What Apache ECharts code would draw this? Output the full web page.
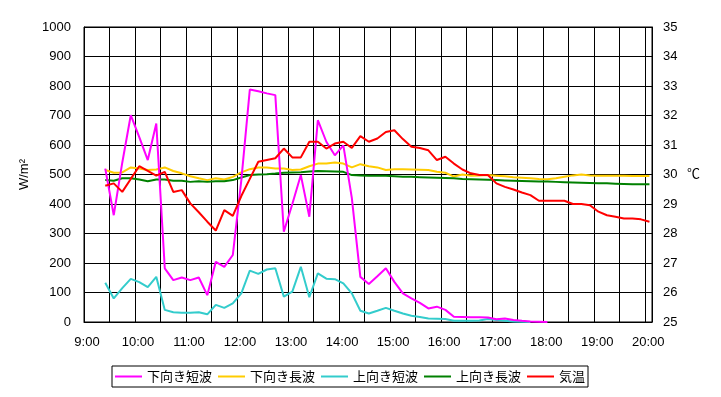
<!DOCTYPE html>
<html>
<head>
<meta charset="utf-8">
<script src="https://cdn.jsdelivr.net/npm/echarts@6/dist/echarts.min.js"></script>
<style>
html,body{margin:0;padding:0;background:#fff;}
#chart{width:721px;height:397px;}
</style>
</head>
<body>
<div id="chart"></div>
<script>
// Time stamps (10-minute data)
const times = ['9:25','9:35','9:45','9:55','10:05','10:15','10:25','10:35','10:45','10:55',
  '11:05','11:15','11:25','11:35','11:45','11:55','12:05','12:15','12:25','12:35',
  '12:45','12:55','13:05','13:15','13:25','13:35','13:45','13:55','14:05','14:15',
  '14:25','14:35','14:45','14:55','15:05','15:15','15:25','15:35','15:45','15:55',
  '16:05','16:15','16:25','16:35','16:45','16:55','17:05','17:15','17:25','17:35',
  '17:45','17:55','18:05','18:15','18:25','18:35','18:45','18:55','19:05','19:15',
  '19:25','19:35','19:45','19:55','20:05'];

// 下向き短波 (W/m2)
const downShort = [520,362,540,701,627,549,673,182,142,151,
  142,151,91,204,187,227,480,788,782,775,
  769,306,400,498,357,684,611,565,599,420,
  153,129,155,182,136,97,80,65,46,52,
  41,18,17,16,16,15,9,12,7,4,
  2,1,0];
// 下向き長波 (W/m2)
const downLong = [515,506,507,524,520,515,517,524,512,504,
  494,487,481,487,483,492,507,518,524,524,
  520,520,515,517,528,537,537,541,537,524,
  535,528,524,515,518,518,517,516,515,509,
  506,493,500,496,497,498,496,494,491,489,
  487,485,484,487,492,497,500,497,496,496,
  496,496,495,495,495];
// 上向き短波 (W/m2)
const upShort = [133,80,115,146,135,118,153,41,33,31,
  31,33,26,58,48,63,97,174,163,178,
  182,86,103,187,84,165,147,145,131,97,
  38,29,38,48,38,29,21,17,12,11,
  10,4,4,4,5,10,7,4,2,1,
  0];
// 上向き長波 (W/m2)
const upLong = [481,479,487,487,483,477,483,483,479,479,
  475,477,475,477,477,481,490,498,500,501,
  503,506,507,508,510,512,511,510,509,498,
  497,496,496,496,494,492,492,491,490,489,
  488,487,485,484,483,482,481,480,479,478,
  477,476,476,475,474,473,472,471,470,470,
  469,468,467,467,467];
// 気温 (℃)
const airTemp = [29.62,29.70,29.41,29.85,30.28,30.12,29.96,30.09,29.41,29.47,
  29.02,28.72,28.40,28.10,28.79,28.60,29.27,29.85,30.43,30.49,
  30.55,30.88,30.58,30.58,31.11,31.11,30.88,31.05,31.11,30.90,
  31.30,31.11,31.22,31.44,31.50,31.20,30.94,30.90,30.82,30.49,
  30.60,30.37,30.17,30.04,29.98,29.98,29.70,29.58,29.49,29.39,
  29.30,29.11,29.11,29.11,29.11,29.00,29.00,28.96,28.74,28.62,
  28.57,28.51,28.51,28.48,28.40];

const seriesNames = ['下向き短波','下向き長波','上向き短波','上向き長波','気温'];
const seriesColors = ['#FF00FF','#FFCC00','#33CCCC','#008000','#FF0000'];

function toHour(s){ const p = s.split(':'); return (+p[0]) + (+p[1])/60; }
function pairs(vals){ return vals.map((v,i)=>[toHour(times[i]), v]); }

const font = '"Liberation Sans", "Noto Sans CJK JP", sans-serif';
const chart = echarts.init(document.getElementById('chart'), null, {renderer:'canvas'});

const dataSets = [downShort, downLong, upShort, upLong, airTemp];
const series = dataSets.map((d,k)=>({
  name: seriesNames[k],
  type: 'line',
  yAxisIndex: k === 4 ? 1 : 0,
  data: pairs(d),
  symbol: 'none',
  smooth: false,
  lineStyle: {color: seriesColors[k], width: 2},
  itemStyle: {color: seriesColors[k]},
  animation: false,
  z: k === 4 ? 5 : (k === 0 ? 4 : 3)
}));

chart.setOption({
  animation: false,
  backgroundColor: '#fff',
  textStyle: {fontFamily: font},
  grid: {left: 84, right: 69, top: 27, bottom: 75, show: true, borderColor: '#000', borderWidth: 1, containLabel: false},
  legend: {
    data: seriesNames,
    bottom: 10,
    left: 112,
    orient: 'horizontal',
    borderColor: '#000',
    borderWidth: 1,
    padding: [4, 3],
    itemGap: 6,
    itemWidth: 27,
    itemHeight: 2,
    icon: 'rect',
    textStyle: {fontSize: 13, color: '#000', fontFamily: '"Noto Sans CJK JP", sans-serif'}
  },
  xAxis: {
    type: 'value',
    min: 9,
    max: 20 + 8/60,
    interval: 0.5,
    axisLine: {show: true, lineStyle: {color: '#000', width: 1}},
    axisTick: {show: false},
    splitLine: {show: true, lineStyle: {color: '#000', width: 1}},
    axisLabel: {
      color: '#000', fontSize: 13, margin: 14, padding: [0,0,0,6],
      formatter: v => (Math.abs(v - Math.round(v)) < 1e-6 ? Math.round(v) + ':00' : '')
    }
  },
  yAxis: [{
    type: 'value',
    min: 0, max: 1000, interval: 100,
    name: 'W/m²',
    nameLocation: 'middle',
    nameGap: 45,
    nameTextStyle: {color: '#000', fontSize: 13},
    axisLine: {show: true, lineStyle: {color: '#000'}},
    axisTick: {show: false},
    splitLine: {show: true, lineStyle: {color: '#000', width: 1}},
    axisLabel: {color: '#000', fontSize: 13, margin: 13, formatter: v => String(v)}
  }, {
    type: 'value',
    min: 25, max: 35, interval: 1,
    position: 'right',
    name: '℃',
    nameLocation: 'middle',
    nameRotate: 0,
    nameGap: 35,
    nameTextStyle: {color: '#000', fontSize: 13},
    axisLine: {show: true, lineStyle: {color: '#000'}},
    axisTick: {show: false},
    splitLine: {show: false},
    axisLabel: {color: '#000', fontSize: 13, margin: 11, formatter: v => String(v)}
  }],
  series: series
});
</script>
</body>
</html>
